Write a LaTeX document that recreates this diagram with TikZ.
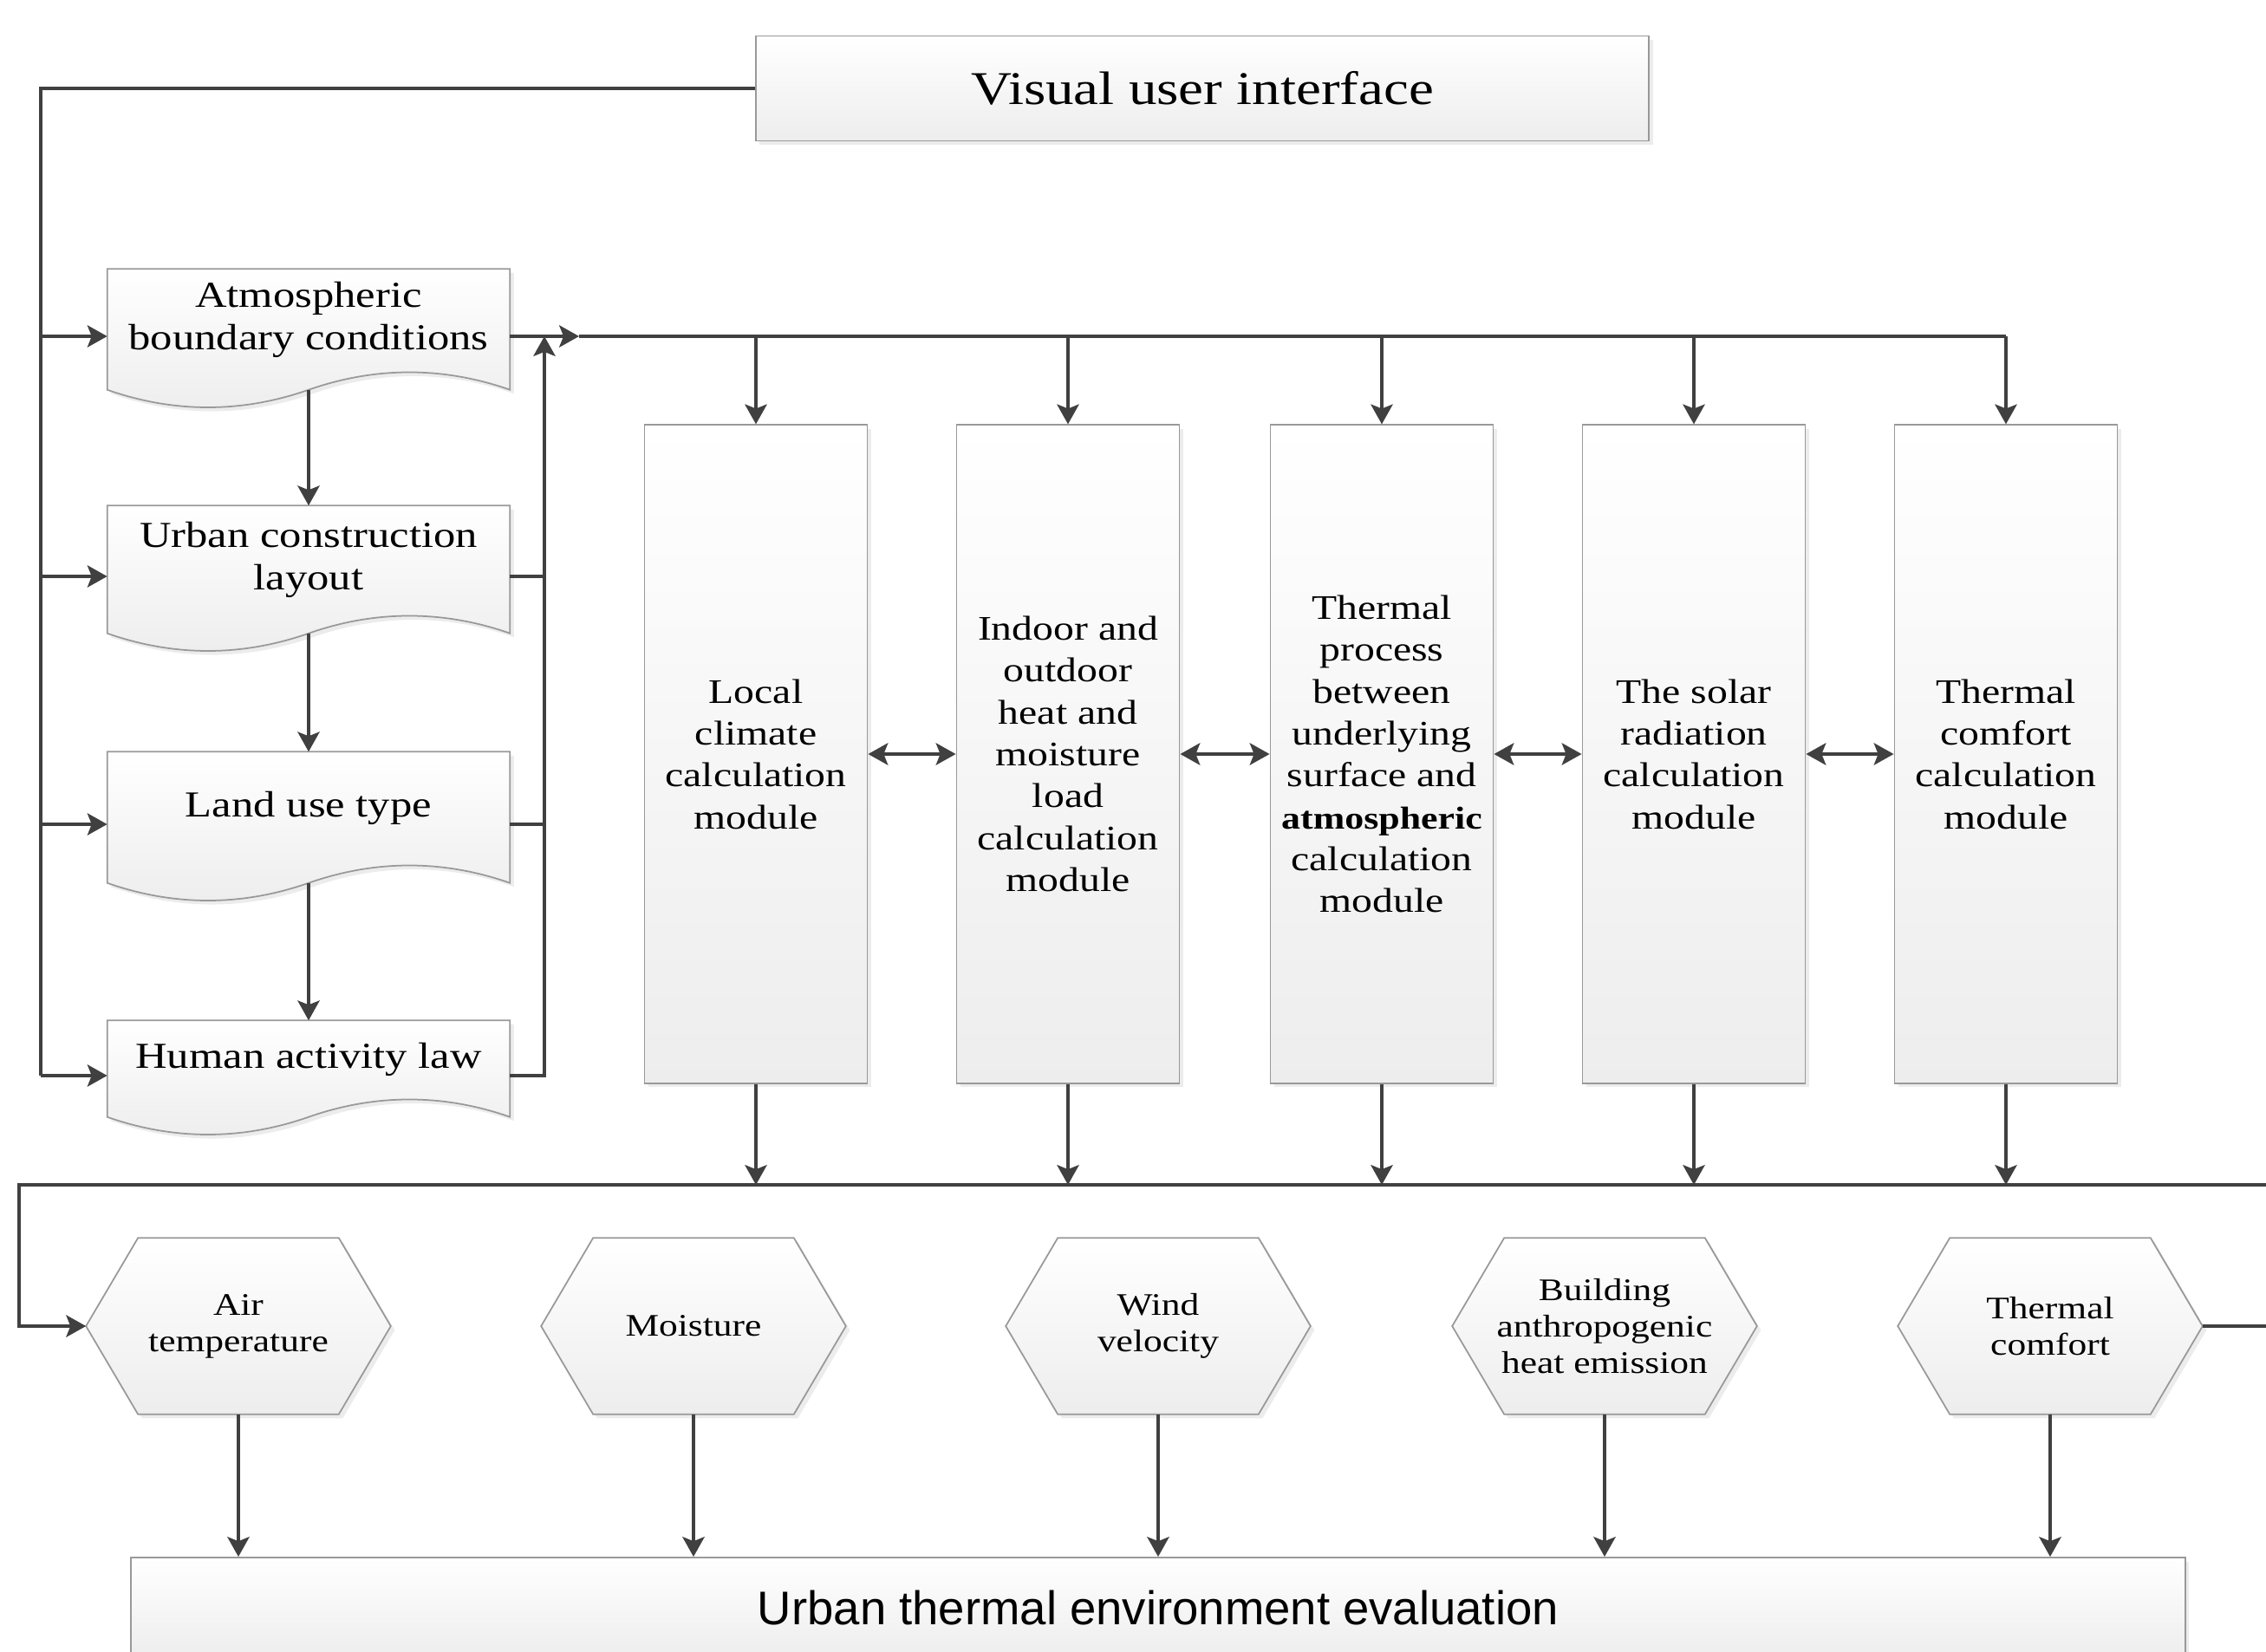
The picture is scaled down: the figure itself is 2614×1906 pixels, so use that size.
\documentclass[tikz,border=0pt]{standalone}
\usepackage{fontspec}
\setmainfont{Liberation Serif}[FakeStretch=1.2]
\setsansfont{Liberation Sans}
\usetikzlibrary{arrows.meta,calc,shadows,backgrounds}

\tikzset{
  flow/.style={draw=black!75,line width=1pt},
  arr/.style={flow,-{Stealth[length=6.5pt,width=7.2pt,inset=1.4pt]}},
  darr/.style={flow,{Stealth[length=6.5pt,width=7.2pt,inset=1.4pt]}-{Stealth[length=6.5pt,width=7.2pt,inset=1.4pt]}},
  shade box/.style={draw=black!40,line width=0.5pt,top color=white,bottom color=black!7,
    drop shadow={shadow xshift=1.3pt,shadow yshift=-1.3pt,opacity=0.15}},
  topbox/.style={shade box,minimum width=10.3cm,minimum height=1.21cm,inner sep=0pt,
    font=\fontsize{15.4}{18}\selectfont},
  docbox/.style={align=center,minimum width=4.63cm,inner sep=0pt,
    font=\fontsize{12}{13.75}\selectfont},
  modbox/.style={shade box,align=center,minimum width=2.57cm,minimum height=7.59cm,inner sep=0pt,
    font=\fontsize{11.3}{13.75}\selectfont},
  hexnode/.style={align=center,minimum width=3.5cm,minimum height=2.02cm,inner sep=0pt,
    font=\fontsize{10.3}{11.9}\selectfont},
  evalbox/.style={shade box,minimum width=23.68cm,minimum height=1.16cm,inner sep=0pt,
    font=\sffamily\fontsize{15.5}{18}\selectfont}
}

\begin{document}
\begin{tikzpicture}[x=0.01cm,y=-0.01cm]
  \useasboundingbox (0,0) rectangle (2614,1906);

  % interface and input data
  \node[topbox] (vui) at (1387,102) {Visual user interface};
  \node[docbox,minimum height=1.16cm] (abc) at (356,369) {Atmospheric\\boundary conditions};
  \node[docbox,minimum height=1.24cm] (ucl) at (356,646) {Urban construction\\layout};
  \node[docbox,minimum height=1.28cm] (lut) at (356,932) {Land use type};
  \node[docbox,minimum height=0.88cm] (hal) at (356,1222) {Human activity law};

  % calculation modules
  \node[modbox] (lcc) at (872,870) {Local\\climate\\calculation\\module};
  \node[modbox] (ihm) at (1232,870) {Indoor and\\outdoor\\heat and\\moisture\\load\\calculation\\module};
  \node[modbox] (tpa) at (1594,870) {Thermal\\process\\between\\underlying\\surface and\\{\fontsize{10.4}{13.75}\selectfont\textbf{atmospheric}}\\calculation\\module};
  \node[modbox] (src) at (1954,870) {The solar\\radiation\\calculation\\module};
  \node[modbox] (tcc) at (2314,870) {Thermal\\comfort\\calculation\\module};

  % outputs
  \node[hexnode] (air) at (275,1530) {Air\\temperature};
  \node[hexnode] (moi) at (800,1530) {Moisture};
  \node[hexnode] (wnd) at (1336,1530) {Wind\\velocity};
  \node[hexnode] (bah) at (1851,1530) {Building\\anthropogenic\\heat emission};
  \node[hexnode] (thc) at (2365,1530) {Thermal\\comfort};
  \node[evalbox] (eval) at (1336,1855) {Urban thermal environment evaluation};

  % wavy boxes and hexagons
  \begin{scope}[on background layer]
    \foreach \n in {abc,ucl,lut,hal}
      \path[shade box] (\n.north west) -- (\n.north east) -- ($(\n.south east)+(0,22)$)
        .. controls ($(\n.south east)+(-77,-5)$) and ($(\n.south)+(77,-5)$) .. ($(\n.south)+(0,22)$)
        .. controls ($(\n.south)+(-77,49)$) and ($(\n.south west)+(77,49)$) .. ($(\n.south west)+(0,22)$) -- cycle;
    \foreach \n in {air,moi,wnd,bah,thc}
      \path[shade box] (\n.west) -- ($(\n.north west)+(60,0)$) -- ($(\n.north east)+(-60,0)$)
        -- (\n.east) -- ($(\n.south east)+(-60,0)$) -- ($(\n.south west)+(60,0)$) -- cycle;
  \end{scope}

  \foreach \n in {abc,ucl,lut,hal} {
    \coordinate (\n-in) at ($(\n.west)+(0,19)$);
    \coordinate (\n-out) at ($(\n.east)+(0,19)$);
  }
  \coordinate (lbus) at (47,0);
  \coordinate (rbus) at (628,0);
  \coordinate (tip) at (668,0);
  \coordinate (bbus) at (22,1367);
  \coordinate (redge) at (2630,0);

  % left feed
  \draw[flow] (vui.west) -| (lbus |- hal-in);
  \foreach \n in {abc,ucl,lut,hal}
    \draw[arr] (lbus |- \n-in) -- (\n-in);
  \draw[arr] ($(abc.south)+(0,22)$) -- (ucl.north);
  \draw[arr] ($(ucl.south)+(0,22)$) -- (lut.north);
  \draw[arr] ($(lut.south)+(0,22)$) -- (hal.north);

  % right collector and top bus
  \draw[arr] (hal-out) -| (rbus |- abc-out);
  \foreach \n in {ucl,lut}
    \draw[flow] (\n-out) -- (rbus |- \n-out);
  \draw[arr] (abc-out) -- (tip |- abc-out);
  \draw[flow] (tip |- abc-out) -- (tcc |- abc-out);
  \foreach \m in {lcc,ihm,tpa,src,tcc}
    \draw[arr] (\m |- abc-out) -- (\m.north);

  \draw[darr] (lcc.east) -- (ihm.west);
  \draw[darr] (ihm.east) -- (tpa.west);
  \draw[darr] (tpa.east) -- (src.west);
  \draw[darr] (src.east) -- (tcc.west);

  % bottom bus
  \foreach \m in {lcc,ihm,tpa,src,tcc}
    \draw[arr] (\m.south) -- (\m |- bbus);
  \draw[arr] (redge |- bbus) -- (bbus) |- (air.west);
  \draw[flow] (thc.east) -- (redge |- thc.east);
  \foreach \h in {air,moi,wnd,bah,thc}
    \draw[arr] (\h.south) -- (\h |- eval.north);
\end{tikzpicture}
\end{document}
